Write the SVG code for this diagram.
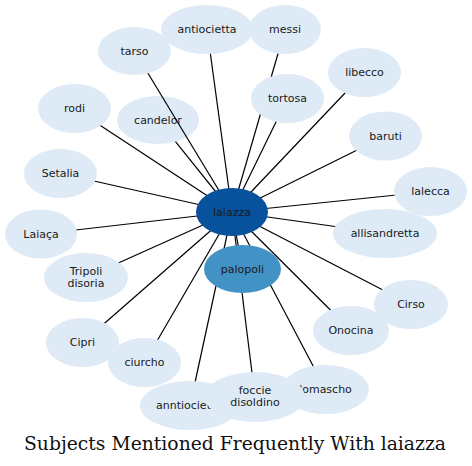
<svg xmlns="http://www.w3.org/2000/svg" width="472" height="466" viewBox="0 0 472 466">
<style>
.n ellipse{fill:#deebf7}
.n text{font-family:"DejaVu Sans",sans-serif;font-size:11px;fill:#1a1a1a;text-anchor:middle}
#connectors line{stroke:#000;stroke-width:1.2}
.title{font-family:"DejaVu Serif",serif;font-size:18px;fill:#111;text-anchor:middle}
</style>
<rect width="472" height="466" fill="#fff"/>
<g id="node-candelor" class="n"><ellipse cx="158" cy="120" rx="41" ry="24"/><text x="158" y="123.5">candelor</text></g>
<g id="connectors">
<line x1="134.5" y1="51" x2="232" y2="212"/>
<line x1="207" y1="29" x2="232" y2="212"/>
<line x1="285" y1="29.5" x2="232" y2="212"/>
<line x1="287.5" y1="98.5" x2="232" y2="212"/>
<line x1="364.5" y1="72.5" x2="232" y2="212"/>
<line x1="74.5" y1="108.5" x2="232" y2="212"/>
<line x1="175.5" y1="141.7" x2="232" y2="212"/>
<line x1="385.5" y1="136" x2="232" y2="212"/>
<line x1="60.5" y1="173.5" x2="232" y2="212"/>
<line x1="430.5" y1="191.5" x2="232" y2="212"/>
<line x1="41" y1="234" x2="232" y2="212"/>
<line x1="385" y1="233.5" x2="232" y2="212"/>
<line x1="86" y1="277.5" x2="232" y2="212"/>
<line x1="411" y1="304.5" x2="232" y2="212"/>
<line x1="82.5" y1="342.5" x2="232" y2="212"/>
<line x1="351" y1="330.5" x2="232" y2="212"/>
<line x1="144.5" y1="362.5" x2="232" y2="212"/>
<line x1="190" y1="405.5" x2="232" y2="212"/>
<line x1="255" y1="397" x2="232" y2="212"/>
<line x1="325.5" y1="389.5" x2="232" y2="212"/>
<line x1="242.5" y1="269" x2="232" y2="212"/>
</g>
<g id="node-antiocietta" class="n"><ellipse cx="207" cy="29.5" rx="46" ry="24.5"/><text x="207" y="33">antiocietta</text></g>
<g id="node-messi" class="n"><ellipse cx="285" cy="29.5" rx="36" ry="24.5"/><text x="285" y="33">messi</text></g>
<g id="node-tarso" class="n"><ellipse cx="134.5" cy="51" rx="36.5" ry="24"/><text x="134.5" y="54.5">tarso</text></g>
<g id="node-libecco" class="n"><ellipse cx="364.5" cy="72.5" rx="36.5" ry="24.5"/><text x="364.5" y="76">libecco</text></g>
<g id="node-rodi" class="n"><ellipse cx="74.5" cy="108.5" rx="36.5" ry="24.5"/><text x="74.5" y="112">rodi</text></g>
<g id="node-tortosa" class="n"><ellipse cx="287.5" cy="98.5" rx="36.5" ry="24.5"/><text x="287.5" y="102">tortosa</text></g>
<g id="node-baruti" class="n"><ellipse cx="385.5" cy="136" rx="36.5" ry="24.5"/><text x="385.5" y="139.5">baruti</text></g>
<g id="node-Setalia" class="n"><ellipse cx="60.5" cy="173.5" rx="36.5" ry="24.5"/><text x="60.5" y="177">Setalia</text></g>
<g id="node-lalecca" class="n"><ellipse cx="430.5" cy="191.5" rx="36.5" ry="24.5"/><text x="430.5" y="195">lalecca</text></g>
<g id="node-Laiaca" class="n"><ellipse cx="41" cy="234" rx="36" ry="24.5"/><text x="41" y="237.5">Laiaça</text></g>
<g id="node-allisandretta" class="n"><ellipse cx="385" cy="233.5" rx="52" ry="24.5"/><text x="385" y="237">allisandretta</text></g>
<g id="node-Tripoli" class="n"><ellipse cx="86" cy="277.5" rx="42" ry="24.5"/><text x="86" y="274.5">Tripoli</text><text x="86" y="287">disoria</text></g>
<g id="node-Cirso" class="n"><ellipse cx="411" cy="304.5" rx="37" ry="24.5"/><text x="411" y="308">Cirso</text></g>
<g id="node-Cipri" class="n"><ellipse cx="82.5" cy="342.5" rx="36.5" ry="24.5"/><text x="82.5" y="346">Cipri</text></g>
<g id="node-Onocina" class="n"><ellipse cx="351" cy="330.5" rx="38" ry="24.5"/><text x="351" y="334">Onocina</text></g>
<g id="node-ciurcho" class="n"><ellipse cx="144.5" cy="362.5" rx="36.5" ry="24.5"/><text x="144.5" y="366">ciurcho</text></g>
<g id="node-anntiocietta" class="n"><ellipse cx="190" cy="405.5" rx="50" ry="24.5"/><text x="189" y="409">anntiocietta</text></g>
<g id="node-lomascho" class="n"><ellipse cx="325.5" cy="389.5" rx="43.5" ry="24.5"/><text x="325.5" y="393">lomascho</text></g>
<g id="node-foccie" class="n"><ellipse cx="255" cy="397" rx="50" ry="25"/><text x="255" y="393.5">foccie</text><text x="255" y="405.5">disoldino</text></g>
<g id="node-palopoli" class="n"><ellipse cx="242.5" cy="269" rx="38.5" ry="24" style="fill:#4292c6"/><text x="242.5" y="272.5">palopoli</text></g>
<g id="node-laiazza" class="n"><ellipse cx="232" cy="212" rx="36" ry="24" style="fill:#08519c"/><text x="232" y="215.5">laiazza</text></g>
<text class="title" x="235" y="450" textLength="422" lengthAdjust="spacingAndGlyphs">Subjects Mentioned Frequently With laiazza</text>
</svg>
